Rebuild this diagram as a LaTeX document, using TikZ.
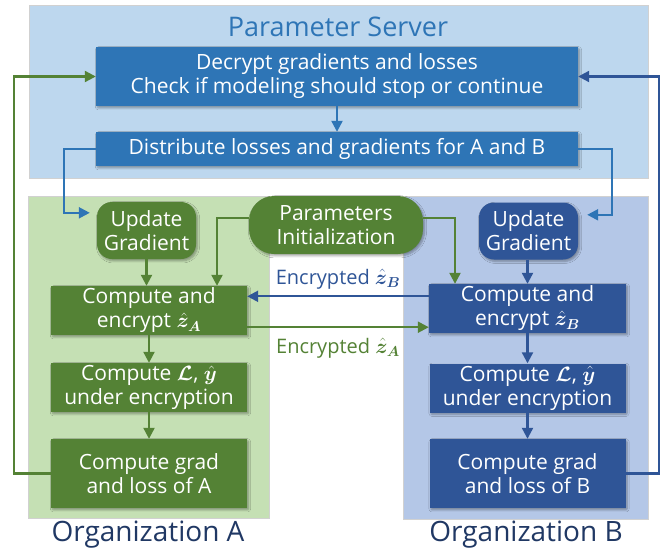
\documentclass[tikz,border=0pt]{standalone}
\usepackage{fontspec}
\usepackage{bm}
\setmainfont{Open Sans}
\usetikzlibrary{arrows.meta,shadows.blur,calc}

\definecolor{psbg}{HTML}{BDD7EE}
\definecolor{psdark}{HTML}{2E75B6}
\definecolor{gbg}{HTML}{C5E0B4}
\definecolor{gdark}{HTML}{548235}
\definecolor{bbg}{HTML}{B4C7E7}
\definecolor{bdark}{HTML}{2F5597}
\definecolor{orgtext}{HTML}{203864}

\tikzset{
  panel/.style={draw=black!18, line width=0.6pt},
  box/.style={draw=none, inner sep=0pt, align=center, text=white,
    font=\fontsize{21}{24}\selectfont,
    blur shadow={shadow xshift=1.5pt, shadow yshift=-1.8pt,
      shadow opacity=35, shadow blur steps=6, shadow blur extra rounding=1pt}},
  psbox/.style={box, fill=psdark},
  gbox/.style={box, fill=gdark},
  bbox/.style={box, fill=bdark},
  roundbox/.style={rounded corners=15pt},
  conn/.style={line width=2.2pt, -{Triangle[length=11pt,width=11pt]}},
  lbl/.style={inner sep=0pt, font=\fontsize{20}{24}\selectfont},
  orglbl/.style={inner sep=0pt, text=orgtext, font=\fontsize{28}{32}\selectfont},
}

\begin{document}
\begin{tikzpicture}[x=1pt,y=-1pt]
\useasboundingbox[fill=white] (0,0) rectangle (666,555);

% background panels
\fill[psbg] (29,5) rectangle (648,178);
\draw[panel] (29,5) rectangle (648,178);
\fill[gbg] (28,196) rectangle (269,518);
\draw[panel] (28,196) rectangle (269,518);
\fill[bbg] (403,196) rectangle (648,519);
\draw[panel] (403,196) rectangle (648,519);

% titles
\node[inner sep=0pt, text=psdark, font=\fontsize{27}{32}\selectfont] (title) at (338,27) {Parameter Server};
\node[orglbl] (orgA) at (148,535) {Organization A};
\node[orglbl] (orgB) at (526,535) {Organization B};

% parameter server steps
\node[psbox, minimum width=482pt, minimum height=59pt] (Dec) at (337,76.5)
  {Decrypt gradients and losses\\Check if modeling should stop or continue};
\node[psbox, minimum width=482pt, minimum height=34pt] (Dist) at (337,149)
  {Distribute losses and gradients for A and B};

% organization A
\node[gbox, roundbox, minimum width=99pt, minimum height=57pt] (UpdA) at (146.5,230.5) {Update\\Gradient};
\node[gbox, rounded corners=25pt, minimum width=174pt, minimum height=58pt] (PInit) at (336,225) {Parameters\\Initialization};
\node[gbox, minimum width=196pt, minimum height=49pt] (EncA) at (149,310.5) {Compute and\\encrypt $\bm{\hat{z}_A}$};
\node[gbox, minimum width=196pt, minimum height=49pt] (LossA) at (149,387.5) {Compute $\bm{\mathcal{L}}$, $\bm{\hat{y}}$\\under encryption};
\node[gbox, minimum width=196pt, minimum height=69pt] (GradA) at (149,473.5) {Compute grad\\and loss of A};

% organization B
\node[bbox, roundbox, minimum width=99pt, minimum height=57pt] (UpdB) at (528.5,231) {Update\\Gradient};
\node[bbox, minimum width=197pt, minimum height=49pt] (EncB) at (527.5,308.5) {Compute and\\encrypt $\bm{\hat{z}_B}$};
\node[bbox, minimum width=196pt, minimum height=49pt] (LossB) at (527.5,388) {Compute $\bm{\mathcal{L}}$, $\bm{\hat{y}}$\\under encryption};
\node[bbox, minimum width=196pt, minimum height=69pt] (GradB) at (527.5,473.5) {Compute grad\\and loss of B};

% exchanged values
\node[lbl, text=bdark] (lblB) at (338,279) {Encrypted $\bm{\hat{z}_B}$};
\node[lbl, text=gdark] (lblA) at (338,348) {Encrypted $\bm{\hat{z}_A}$};

% server internal flow
\draw[conn, psdark] (Dec) -- (Dist);
\coordinate (inA) at ([xshift=-7pt,yshift=-11pt]UpdA.north west);
\coordinate (inB) at ([xshift=9pt,yshift=-12.5pt]UpdB.north east);
\draw[conn, psdark] (Dist.west) -- ++(-32,0) |- (inA);
\draw[conn, psdark] (Dist.east) -- ++(34,0) |- (inB);

% feedback to the server
\draw[conn, gdark] (GradA.west) -- ++(-37,0) |- (Dec.west);
\draw[conn, bdark] (GradB.east) -- ++(33,0) |- (Dec.east);

% initialization
\draw[conn, gdark] ([yshift=7pt]PInit.west) -| ([xshift=68pt]EncA.north);
\draw[conn, gdark] ([yshift=7pt]PInit.east) -| ([xshift=-72.5pt]EncB.north);

% column A
\draw[conn, gdark] (UpdA.south) -- (UpdA.south |- EncA.north);
\draw[conn, gdark] (EncA) -- (LossA);
\draw[conn, gdark] (LossA) -- (GradA);

% column B
\draw[conn, bdark] (EncB.north |- UpdB.south) -- (EncB.north);
\draw[conn, bdark] (EncB) -- (LossB);
\draw[conn, bdark] (LossB) -- (GradB);

% encrypted exchange
\coordinate (zb) at ([yshift=-12.5pt]EncB.north west);
\coordinate (za) at ([yshift=8pt]EncA.south east);
\draw[conn, bdark] (zb) -- (zb -| EncA.east);
\draw[conn, gdark] (za) -- (za -| EncB.west);
\end{tikzpicture}
\end{document}
